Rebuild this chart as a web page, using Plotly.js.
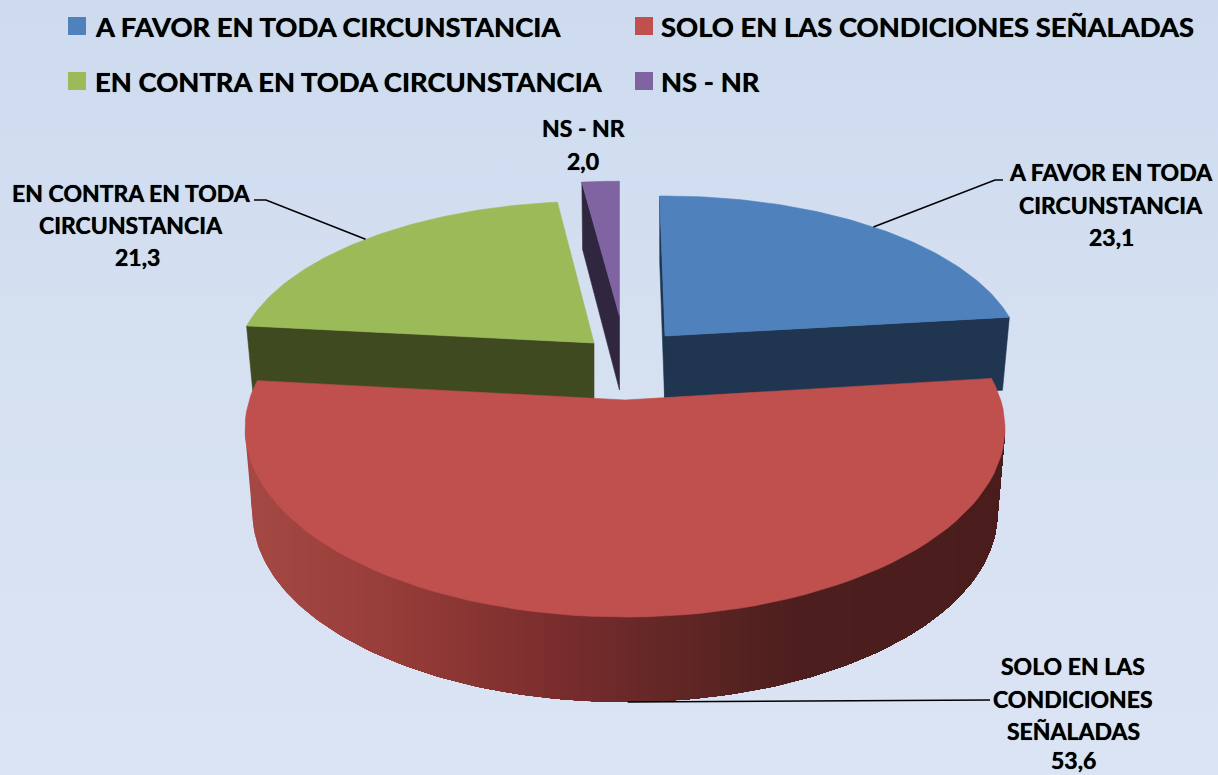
<!DOCTYPE html>
<html><head><meta charset="utf-8">
<script src="https://cdn.plot.ly/plotly-3.0.1.min.js"></script>
<style>html,body{margin:0;padding:0;width:1218px;height:775px;overflow:hidden;background:linear-gradient(180deg,#cedbef 0%,#d5e0f1 45%,#dbe4f4 100%)}#c{width:1218px;height:775px}</style>
</head><body><div id="c"></div>
<script>
// ---- data ----
const categories = ["A FAVOR EN TODA CIRCUNSTANCIA","SOLO EN LAS CONDICIONES SEÑALADAS","EN CONTRA EN TODA CIRCUNSTANCIA","NS - NR"];
const values = [23.1,53.6,21.3,2.0];
const labelLines = [["A FAVOR EN TODA","CIRCUNSTANCIA"],["SOLO EN LAS","CONDICIONES","SEÑALADAS"],["EN CONTRA EN TODA","CIRCUNSTANCIA"],["NS - NR"]];
// ---- style ----
const topColors = ["#4f81bd","#c0504d","#9bbb59","#8064a2"];
const sideColors = ["#1f3550","#4a1d1c","#404a20","#302640"];
const redRamp = [[250,[165,72,68]],[400,[150,60,56]],[540,[125,46,46]],[640,[105,40,40]],[720,[88,36,34]],[800,[76,30,29]],[1010,[74,29,28]]];
// per-slice projection: centre, radii, small edge adjustments
const geom = [
 {cx:665,cy:336,rx:353,ry:161,adj:[-1,0],depth:74,fx:.98,fy:1.05},
 {cx:625,cy:400,rx:375.7,ry:184.5,adj:[0,0],depth:85,fx:.98,fy:1.0},
 {cx:594,cy:343,rx:355,ry:163,adj:[0,.4],depth:74,fx:.98,fy:1.05},
 {cx:619.5,cy:316,rx:345,ry:155,adj:[0,0],depth:74,fx:.98,fy:1.05}
];
const K = .15, BAND = 7;
const FONT = "Lato, 'Open Sans', sans-serif";
const legendCells = [[77,26],[644,26],[77,81],[644,81]];
const legendTextX = [95,661,95,661];
const legendSize = 27.4, labelSize = 23;
const labelBoxes = [{x:1111,y:172,dy:32.5,vx:0,vy:0},{x:1073,y:666,dy:32.7,vx:0,vy:-4},{x:131,y:193,dy:32,vx:6,vy:0},{x:583,y:128,dy:33,vx:0,vy:0}];

// ---- geometry from values ----
const total = values.reduce((a,b)=>a+b,0);
let acc = 0;
const spans = values.map((v,i)=>{const a=acc/total*360; acc+=v; return [a+geom[i].adj[0],acc/total*360+geom[i].adj[1]];});
function pt(g,deg,low){
  const t=deg*Math.PI/180, s=Math.sin(t), c=Math.cos(t), d=1+K*c;
  const dx=g.rx*s/d, dy=-g.ry*c/d;
  return low ? [g.cx+dx*g.fx, g.cy+g.depth+dy*g.fy] : [g.cx+dx, g.cy+dy];
}
function arc(g,a0,a1,low,n){const o=[];for(let i=0;i<=n;i++)o.push(pt(g,a0+(a1-a0)*i/n,low));return o;}
function poly(points,color,name,lw){
  const xs=points.map(p=>p[0]), ys=points.map(p=>p[1]);
  return {type:'scatter',mode:'lines',x:xs.concat(xs[0]),y:ys.concat(ys[0]),fill:'toself',fillcolor:color,
    line:{color:color,width:lw===undefined?.6:lw},hoverinfo:'skip',showlegend:false,name:name};
}
function apex(g,low){return low?[g.cx,g.cy+g.depth]:[g.cx,g.cy];}
function wedge(i){const g=geom[i];return poly([apex(g)].concat(arc(g,spans[i][0],spans[i][1],false,80)),topColors[i],categories[i]);}
function radial(i,deg){const g=geom[i];return poly([apex(g),pt(g,deg),pt(g,deg,true),apex(g,true)],sideColors[i],categories[i]);}
function ramp(x){
  for(let i=1;i<redRamp.length;i++){ if(x<=redRamp[i][0]){
    const [x0,c0]=redRamp[i-1],[x1,c1]=redRamp[i],t=Math.max(0,(x-x0)/(x1-x0));
    return 'rgb('+c0.map((c,j)=>Math.round(c+(c1[j]-c)*t)).join(',')+')';}}
  return 'rgb('+redRamp[redRamp.length-1][1].join(',')+')';
}
function hull(pts){
  const p=pts.slice().sort((a,b)=>a[0]-b[0]||a[1]-b[1]);
  const cr=(o,a,b)=>(a[0]-o[0])*(b[1]-o[1])-(a[1]-o[1])*(b[0]-o[0]);
  const lo=[],up=[];
  for(const q of p){while(lo.length>1&&cr(lo[lo.length-2],lo[lo.length-1],q)<=0)lo.pop();lo.push(q);}
  for(const q of p.slice().reverse()){while(up.length>1&&cr(up[up.length-2],up[up.length-1],q)<=0)up.pop();up.push(q);}
  lo.pop();up.pop();return lo.concat(up);
}
function clipRight(pts,x0){ // keep the part with x>=x0
  const o=[];
  for(let i=0;i<pts.length;i++){
    const a=pts[i],b=pts[(i+1)%pts.length],ia=a[0]>=x0,ib=b[0]>=x0;
    if(ia)o.push(a);
    if(ia!==ib){const t=(x0-a[0])/(b[0]-a[0]);o.push([x0,a[1]+(b[1]-a[1])*t]);}
  }
  return o;
}
const traces=[];
// back slices: side faces then top faces
traces.push(radial(0,spans[0][0]), radial(0,spans[0][1]), wedge(0));
traces.push(radial(2,spans[2][0]), wedge(2));
traces.push(radial(3,spans[3][0]), wedge(3));
// front slice: rim silhouette shaded in vertical bands, painted left to right, then the top
const rg=geom[1];
const aR=180-Math.acos(K)*180/Math.PI, aL=360-aR;
const rim=hull(arc(rg,aR,aL,false,160).concat(arc(rg,aR-10,aL+10,true,160)));
const rimMinX=Math.min(...rim.map(p=>p[0])), rimMaxX=Math.max(...rim.map(p=>p[0]));
for(let x=rimMinX-1;x<rimMaxX;x+=BAND){
  traces.push(poly(clipRight(rim,x),ramp(x+BAND/2),categories[1],0));
}
traces.push(wedge(1));
// leader lines anchored at each slice's mid-angle
function leader(pts){traces.push({type:'scatter',mode:'lines',x:pts.map(p=>p[0]),y:pts.map(p=>p[1]),line:{color:'#000',width:1.6},hoverinfo:'skip',showlegend:false});}
const mid=i=>(spans[i][0]+spans[i][1])/2;
leader([pt(geom[0],mid(0)),[995,180],[1003,180]]);
leader([pt(geom[1],mid(1),true),[990,700]]);
leader([pt(geom[2],mid(2)),[266,200],[254,200]]);
// legend swatches
categories.forEach((c,i)=>traces.push({type:'scatter',mode:'markers',x:[legendCells[i][0]],y:[legendCells[i][1]],
  marker:{symbol:'square',size:18,color:topColors[i]},hoverinfo:'skip',showlegend:false,name:c}));
// ---- text ----
const annotations=[];
const txt=(x,y,t,size,anchor)=>annotations.push({x,y,text:'<b>'+t+'</b>',xref:'x',yref:'y',showarrow:false,xanchor:anchor,yanchor:'middle',
  font:{family:FONT,size,color:'#000',shadow:'0 0 0.7px #000'},borderpad:0,borderwidth:0});
categories.forEach((c,i)=>txt(legendTextX[i],legendCells[i][1],c,legendSize,'left'));
labelLines.forEach((lines,i)=>{
  const b=labelBoxes[i];
  lines.forEach((l,j)=>txt(b.x,b.y+j*b.dy,l,labelSize,'center'));
  txt(b.x+b.vx,b.y+lines.length*b.dy+b.vy,values[i].toFixed(1).replace('.',','),labelSize,'center');
});
Plotly.newPlot('c',traces,{
  width:1218,height:775,margin:{l:0,r:0,t:0,b:0},paper_bgcolor:'rgba(0,0,0,0)',plot_bgcolor:'rgba(0,0,0,0)',showlegend:false,
  xaxis:{range:[0,1218],visible:false,fixedrange:true},yaxis:{range:[775,0],visible:false,fixedrange:true},
  annotations
},{displayModeBar:false,staticPlot:true});
</script></body></html>
